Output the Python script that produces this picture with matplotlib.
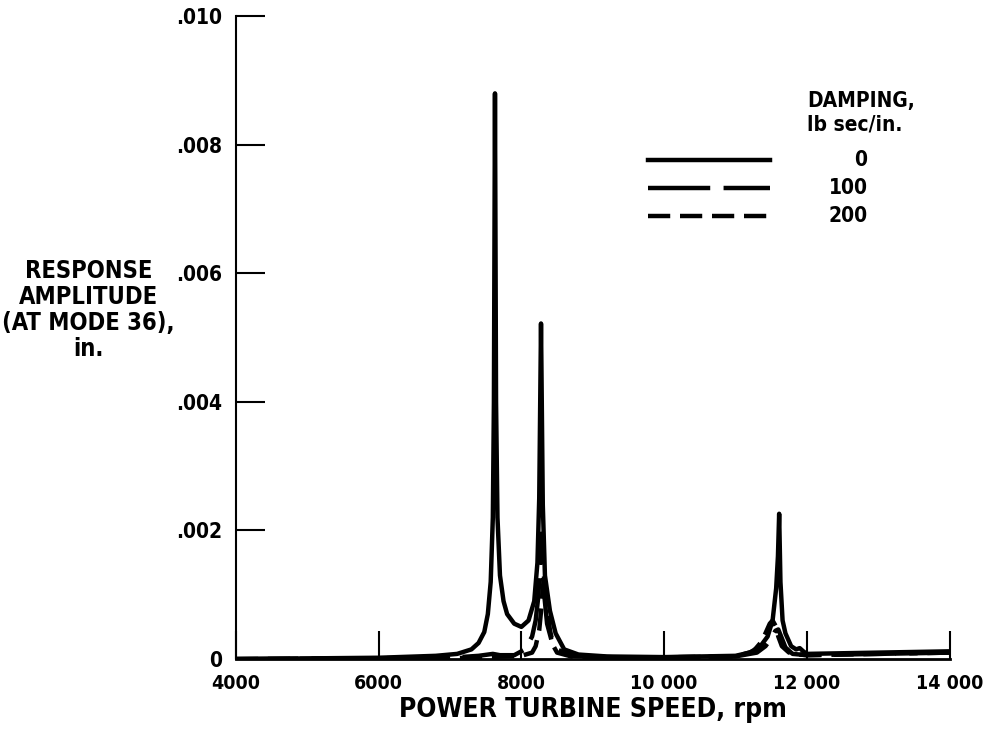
import matplotlib
matplotlib.use('Agg')
import matplotlib.pyplot as plt
import numpy as np

plt.rcParams['font.family'] = ['DejaVu Sans']
plt.rcParams['font.stretch'] = 'condensed'
plt.rcParams['font.weight'] = 'bold'

# power turbine speed, rpm / response amplitude, units of 0.001 in.
rpm_0 = [4000, 5000, 6000, 6800, 7100, 7300, 7400, 7480, 7530, 7570, 7600, 7615,
         7630, 7645, 7665, 7700, 7750, 7800, 7900, 8000, 8100, 8180, 8225, 8250,
         8275, 8300, 8330, 8400, 8480, 8600, 8800, 9200, 10000, 11000, 11200,
         11350, 11450, 11520, 11570, 11595, 11612, 11630, 11660, 11700, 11780,
         11850, 11900, 11950, 12000, 13000, 14000]
amp_0 = [0.0, 0.01, 0.02, 0.05, 0.08, 0.15, 0.25, 0.42, 0.7, 1.2, 2.2, 4.0,
         8.8, 4.0, 2.2, 1.3, 0.9, 0.7, 0.55, 0.5, 0.6, 0.9, 1.5, 2.5,
         5.22, 2.4, 1.3, 0.75, 0.4, 0.15, 0.07, 0.04, 0.03, 0.05, 0.1,
         0.2, 0.35, 0.6, 1.1, 1.6, 2.26, 1.2, 0.6, 0.4, 0.2,
         0.15, 0.17, 0.12, 0.08, 0.10, 0.12]

rpm_100 = [4000, 7000, 7400, 7600, 7700, 7900, 8050, 8150, 8200, 8240, 8262, 8278,
           8295, 8320, 8360, 8420, 8500, 8700, 9500, 11000, 11300, 11420, 11500,
           11560, 11600, 11640, 11700, 11800, 12000, 14000]
amp_100 = [0.0, 0.02, 0.05, 0.08, 0.06, 0.06, 0.15, 0.35, 0.6, 1.0, 1.6, 1.95,
           1.6, 1.0, 0.55, 0.3, 0.15, 0.05, 0.02, 0.04, 0.1, 0.2, 0.32,
           0.44, 0.46, 0.35, 0.18, 0.08, 0.06, 0.1]

rpm_200 = [4000, 7000, 7500, 7800, 8000, 8150, 8200, 8250, 8280, 8300, 8320, 8340,
           8360, 8400, 8450, 8500, 8700, 9500, 11000, 11250, 11350, 11420, 11480,
           11520, 11560, 11600, 11650, 11750, 11900, 12000, 14000]
amp_200 = [0.0, 0.01, 0.03, 0.04, 0.05, 0.1, 0.2, 0.45, 0.8, 1.1, 1.3, 1.1,
           0.8, 0.45, 0.2, 0.1, 0.04, 0.02, 0.04, 0.12, 0.25, 0.4, 0.55,
           0.6, 0.52, 0.35, 0.2, 0.1, 0.07, 0.06, 0.1]

x_ticks = [4000, 6000, 8000, 10000, 12000, 14000]
x_labels = ['4000', '6000', '8000', '10 000', '12 000', '14 000']
y_ticks = [0, 0.002, 0.004, 0.006, 0.008, 0.010]
y_labels = ['0', '.002', '.004', '.006', '.008', '.010']
damping = ['0', '100', '200']

fig = plt.figure(figsize=(9.83, 7.38), dpi=100)
ax = fig.add_axes([0.240, 0.107, 0.726, 0.871])

lw = 3.2
ax.plot(rpm_0, np.array(amp_0) * 1e-3, color='black', lw=lw, solid_capstyle='round')
ax.plot(rpm_100, np.array(amp_100) * 1e-3, color='black', lw=lw,
        dashes=(14, 3))
ax.plot(rpm_200, np.array(amp_200) * 1e-3, color='black', lw=lw,
        dashes=(5, 2.2))

ax.set_xlim(4000, 14000)
ax.set_ylim(0, 0.010)
ax.spines['top'].set_visible(False)
ax.spines['right'].set_visible(False)
ax.spines['left'].set_linewidth(1.5)
ax.spines['bottom'].set_linewidth(2.0)

ax.set_xticks(x_ticks)
ax.set_xticklabels(x_labels)
ax.set_yticks(y_ticks)
ax.set_yticklabels(y_labels)
ax.tick_params(axis='x', direction='in', length=20, width=1.5, pad=11, labelsize=14)
ax.tick_params(axis='y', direction='in', length=21, width=1.5, pad=10, labelsize=15)

ax.set_xlabel('POWER TURBINE SPEED, rpm', fontsize=19, fontweight='bold',
              labelpad=3)
fig.text(0.090, 0.58, 'RESPONSE\nAMPLITUDE\n(AT MODE 36),\nin.', ha='center',
         va='center', fontsize=17, linespacing=1.1)

# legend
styles = [dict(), dict(dashes=(14, 3)), dict(dashes=(5, 2.2))]
ly = [0.776, 0.7325, 0.690]
for lab, st, yy in zip(damping, styles, ly):
    ax.plot([0.577, 0.749], [yy, yy], transform=ax.transAxes, color='black',
            lw=lw, **st)
    ax.text(0.885, yy, lab, transform=ax.transAxes, ha='right', va='center',
            fontsize=15)
ax.text(0.800, 0.850, 'DAMPING,\nlb sec/in.', transform=ax.transAxes,
        ha='left', va='center', fontsize=15, multialignment='left',
        linespacing=1.2)

fig.savefig('out.png', dpi=100)
